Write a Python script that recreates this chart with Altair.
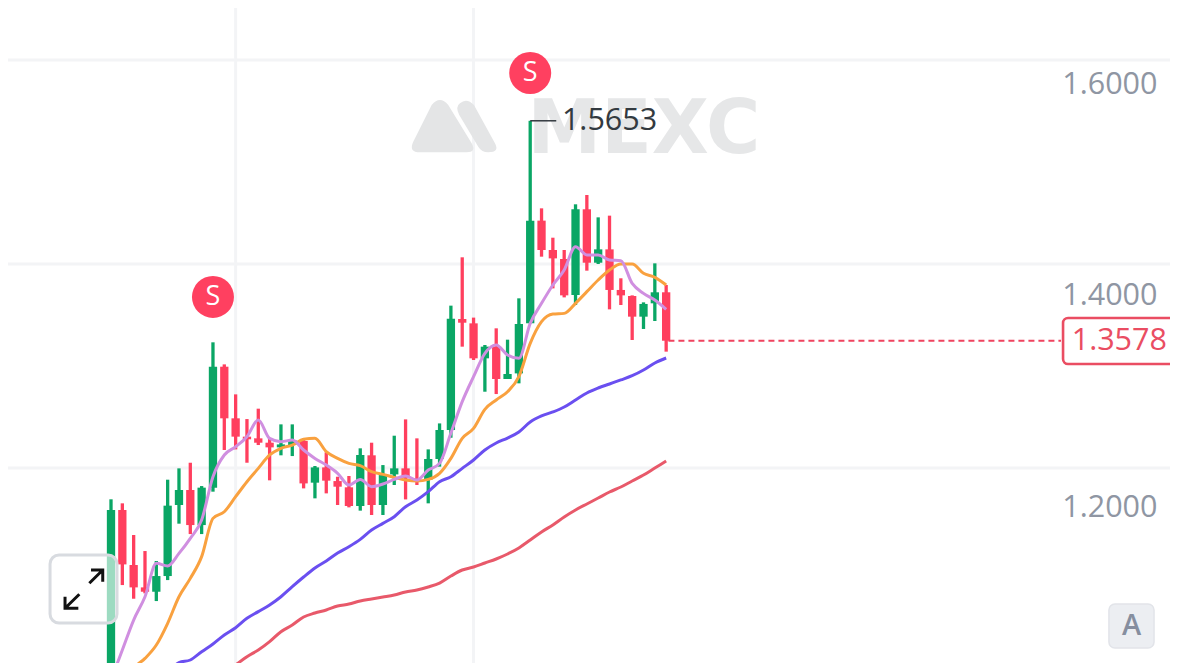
import altair as alt
import pandas as pd

# candle values: high, body top, body bottom, low
highs = [1.2082,1.2044,1.1745,1.1594,1.1500,1.2267,1.2374,1.2427,1.2207,1.3563,
         1.3355,1.3072,1.2839,1.2937,1.2657,1.2789,1.2789,1.2657,1.2396,1.2525,
         1.2295,1.2302,1.2563,1.2616,1.2405,1.2682,1.2836,1.2657,1.2553,1.2798,
         1.3909,1.4365,1.3796,1.3538,1.3695,1.3588,1.3978,1.5653,1.4827,1.4550,
         1.4434,1.4865,1.4953,1.4742,1.4758,1.4167,1.4006,1.3940,1.4308,1.4104]
tops = [1.1981,1.1981,1.1462,1.1251,1.1358,1.2022,1.2170,1.2170,1.2192,1.3333,
        1.3333,1.2846,1.2673,1.2657,1.2616,1.2600,1.2641,1.2632,1.2383,1.2383,
        1.2254,1.2195,1.2500,1.2497,1.2311,1.2374,1.2374,1.2280,1.2462,1.2736,
        1.3786,1.3783,1.3742,1.3522,1.3522,1.3264,1.3736,1.4711,1.4711,1.4434,
        1.4349,1.4818,1.4818,1.4440,1.4440,1.4057,1.4000,1.3925,1.4035,1.4035]
bottoms = [1.0400,1.1468,1.1251,1.1210,1.1210,1.1358,1.2028,1.1839,1.1839,1.2192,
           1.2846,1.2673,1.2648,1.2616,1.2572,1.2572,1.2594,1.2232,1.2239,1.2258,
           1.2201,1.2019,1.2019,1.2028,1.2028,1.2317,1.2280,1.2264,1.2264,1.2462,
           1.2736,1.3748,1.3412,1.3412,1.3217,1.3217,1.3270,1.3742,1.4434,1.4355,
           1.4006,1.4009,1.4314,1.4314,1.4057,1.4006,1.3805,1.3805,1.3931,1.3578]
lows = [1.0300,1.1273,1.1144,1.1195,1.1122,1.1320,1.1852,1.1754,1.1754,1.2154,
        1.2547,1.2553,1.2427,1.2594,1.2261,1.2497,1.2490,1.2185,1.2091,1.2138,
        1.2028,1.2006,1.1975,1.1934,1.1934,1.2217,1.2081,1.2217,1.2044,1.2390,
        1.2663,1.3522,1.3396,1.3097,1.3075,1.3217,1.3176,1.3742,1.4371,1.4072,
        1.3987,1.3915,1.4239,1.4302,1.3874,1.3915,1.3585,1.3689,1.3764,1.3475]
red_candles = [1,2,3,7,10,11,12,13,14,17,19,20,21,23,26,27,31,32,34,38,39,40,42,44,45,46,49]
ma_pink = [1.0377,1.0660,1.0943,1.1163,1.1478,1.1453,1.1572,1.1714,1.1887,1.2295,
           1.2500,1.2578,1.2673,1.2830,1.2657,1.2626,1.2641,1.2547,1.2468,1.2405,
           1.2327,1.2217,1.2270,1.2201,1.2226,1.2270,1.2302,1.2264,1.2358,1.2421,
           1.2707,1.3003,1.3239,1.3459,1.3538,1.3443,1.3412,1.3742,1.3931,1.4104,
           1.4245,1.4465,1.4387,1.4387,1.4340,1.4333,1.4119,1.4025,1.3962,1.3874]
ma_orange = [1.0100,1.0300,1.0487,1.0581,1.0707,1.0912,1.1163,1.1336,1.1541,1.1902,
             1.1965,1.2107,1.2248,1.2374,1.2500,1.2563,1.2594,1.2648,1.2657,1.2531,
             1.2468,1.2421,1.2399,1.2343,1.2317,1.2289,1.2264,1.2254,1.2270,1.2327,
             1.2468,1.2657,1.2751,1.2931,1.3019,1.3097,1.3239,1.3553,1.3758,1.3830,
             1.3836,1.3931,1.4041,1.4151,1.4245,1.4302,1.4302,1.4214,1.4176,1.4104]
ma_blue_idx = list(range(5, 50))
ma_blue = [1.0450,1.0541,1.0566,1.0644,1.0717,1.0802,1.0871,1.0959,1.1022,1.1085,
           1.1163,1.1258,1.1349,1.1434,1.1500,1.1575,1.1635,1.1704,1.1792,1.1855,
           1.1918,1.2012,1.2075,1.2154,1.2248,1.2295,1.2374,1.2453,1.2547,1.2613,
           1.2660,1.2717,1.2811,1.2868,1.2906,1.2953,1.3019,1.3085,1.3132,1.3170,
           1.3208,1.3248,1.3302,1.3368,1.3415]
ma_red_idx = list(range(11, 50))
ma_red = [1.0519,1.0597,1.0660,1.0739,1.0833,1.0896,1.0972,1.1009,1.1038,1.1075,
          1.1094,1.1123,1.1142,1.1160,1.1179,1.1208,1.1226,1.1255,1.1292,1.1358,
          1.1415,1.1443,1.1481,1.1519,1.1566,1.1623,1.1698,1.1774,1.1840,1.1915,
          1.1981,1.2038,1.2094,1.2151,1.2198,1.2255,1.2311,1.2377,1.2443]
grid_prices = [1.6226, 1.4302, 1.2377]
grid_index = [11, 32]
axis_ticks = [1.6, 1.4, 1.2]
last_price = 1.3578
peak_price = 1.5653

GREEN, RED = "#0aa665", "#ff3f5e"
idx = list(range(50))
sides = ["r" if i in red_candles else "g" for i in idx]
candles = pd.DataFrame(dict(i=idx, hi=highs, top=tops, bot=bottoms, lo=lows, side=sides))

X = alt.Scale(domain=[-9.091, 93.47], nice=False, zero=False, padding=0)
Y = alt.Scale(domain=[1.05377, 1.6717], nice=False, zero=False)
FONT = "Open Sans"
Y_AXIS = alt.Axis(
    orient="left", values=axis_ticks, format=".4f", domain=False, ticks=False, grid=False,
    title=None, labelFont=FONT, labelFontSize=30.5, labelColor="#8f96a3",
    labelPadding=0, offset=-1149, labelFlush=False, labelOverlap=False)

def xe(f="i"):
    return alt.X(f"{f}:Q", scale=X, axis=None)
def ye(f="p"):
    return alt.Y(f"{f}:Q", scale=Y, axis=Y_AXIS)
def table(**k):
    return alt.Data(values=pd.DataFrame(k).to_dict("records"))

color = alt.Color("side:N", scale=alt.Scale(domain=["g", "r"], range=[GREEN, RED]), legend=None)

hgrid = alt.Chart(table(p=grid_prices)).mark_rule(color="#f3f4f6", strokeWidth=3).encode(y=ye())
vgrid = alt.Chart(table(i=grid_index)).mark_rule(color="#f3f4f6", strokeWidth=3).encode(x=xe())

logo_path = ("M -.223 -.205 Q -.14 -.305 -.057 -.205 L .177 .178 Q .227 .268 .127 .268 L -.34 .268 "
             "Q -.457 .268 -.407 .162 Z M .053 -.105 Q .01 -.188 .06 -.222 Q .127 -.282 .2 -.205 "
             "L .41 .178 Q .46 .268 .343 .268 Q .277 .268 .243 .212 Z")
logo = alt.Chart(table(i=[30.27], p=[1.5608])).mark_point(
    shape=logo_path, size=40000, filled=True, color="#e4e5e6", opacity=1).encode(x=xe(), y=ye())
word = alt.Chart(table(i=[47.04], p=[1.5555], t=["MEXC"])).mark_text(
    font="DejaVu Sans", fontWeight="bold", fontSize=74, align="center", baseline="middle",
    color="#e6e7e8").encode(x=xe(), y=ye(), text="t:N")

wicks = alt.Chart(alt.Data(values=candles.to_dict("records"))).mark_rule(strokeWidth=3.3, clip=True).encode(
    x=xe(), y=ye("hi"), y2="lo:Q", color=color)
bodies = alt.Chart(alt.Data(values=candles.to_dict("records"))).mark_bar(size=8.3, clip=True, orient="vertical").encode(
    x=xe(), y=ye("top"), y2="bot:Q", color=color)

def ma(ix, vals, col):
    return alt.Chart(table(i=ix, p=vals)).mark_line(
        color=col, strokeWidth=3, interpolate="monotone", clip=True).encode(x=xe(), y=ye())

lines = [ma(ma_red_idx, ma_red, "#e8596a"), ma(ma_blue_idx, ma_blue, "#6a4ff0"),
         ma(idx, ma_orange, "#f9a13f"), ma(idx, ma_pink, "#d08fe0")]

badges = alt.Chart(table(i=[9, 37], p=[1.3991, 1.6104], t=["S", "S"]))
badge_dots = badges.mark_point(filled=True, shape="circle", size=1764, color="#ff4060", opacity=1).encode(x=xe(), y=ye())
badge_text = badges.mark_text(font=FONT, fontSize=27, color="white", baseline="middle", align="center").encode(
    x=xe(), y=ye(), text="t:N")

peak_rule = alt.Chart(table(i=[37], i2=[39.3], p=[peak_price])).mark_rule(color="#333a40", strokeWidth=1.5).encode(
    x=xe(), x2="i2:Q", y=ye())
peak_text = alt.Chart(table(i=[39.8], p=[peak_price], t=[f"{peak_price:.4f}"])).mark_text(
    font=FONT, fontSize=30.5, color="#333a40", align="left", baseline="middle").encode(x=xe(), y=ye(), text="t:N")

last_line = alt.Chart(table(i=[49.2], i2=[83.85], p=[last_price])).mark_rule(
    color="#f0435f", strokeWidth=2.2, strokeDash=[6, 4]).encode(x=xe(), x2="i2:Q", y=ye())
last_box = alt.Chart(table(i=[84.03], i2=[94.0], p=[1.3792], p2=[1.3358])).mark_rect(
    fill="white", stroke="#ea4d62", strokeWidth=2.6, cornerRadius=5).encode(x=xe(), x2="i2:Q", y=ye(), y2="p2:Q")
last_text = alt.Chart(table(i=[93.2], p=[last_price], t=[f"{last_price:.4f}"])).mark_text(
    font=FONT, fontSize=30.5, color="#ea4d62", align="right", baseline="middle").encode(x=xe(), y=ye(), text="t:N")

btn = alt.Chart(table(i=[-5.38], i2=[0.53], p=[1.1557], p2=[1.0915])).mark_rect(
    fill="white", fillOpacity=0.6, stroke="#d8dbe0", strokeWidth=3, cornerRadius=9).encode(
    x=xe(), x2="i2:Q", y=ye(), y2="p2:Q")
arrow_path = ("M .053 -.057 L .187 -.19 M .07 -.19 L .187 -.19 L .187 -.073 "
              "M -.047 .053 L -.19 .193 M -.19 .077 L -.19 .193 L -.057 .193")
arrows = alt.Chart(table(i=[-2.38], p=[1.1236])).mark_point(
    shape=arrow_path, size=40000, filled=False, stroke="#111111", strokeWidth=3, opacity=1).encode(x=xe(), y=ye())

a_box = alt.Chart(table(i=[88.08], i2=[92.06], p=[1.1094], p2=[1.0679])).mark_rect(
    fill="#eceef2", stroke="#e2e4e9", strokeWidth=1.5, cornerRadius=6).encode(x=xe(), x2="i2:Q", y=ye(), y2="p2:Q")
a_text = alt.Chart(table(i=[90.07], p=[1.0887], t=["A"])).mark_text(
    font=FONT, fontSize=29, fontWeight=600, color="#868e9f", align="center", baseline="middle").encode(
    x=xe(), y=ye(), text="t:N")

chart = alt.layer(
    hgrid, vgrid, logo, word, wicks, bodies, *lines,
    last_line, last_box, last_text, peak_rule, peak_text, badge_dots, badge_text,
    btn, arrows, a_box, a_text
).properties(
    width=1162, height=655, padding=0, autosize=alt.AutoSizeParams(type="none"), background="white"
).configure_view(stroke=None)

chart.save("out.html", embed_options={"renderer": "svg", "actions": False})
